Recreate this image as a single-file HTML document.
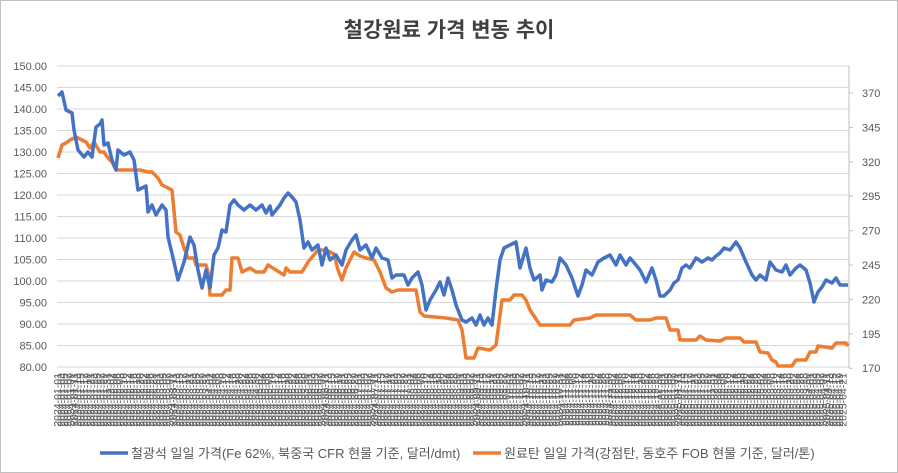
<!DOCTYPE html>
<html><head><meta charset="utf-8">
<style>
body{margin:0;background:#fff;}
svg{display:block;font-family:"Liberation Sans","Noto Sans CJK KR",sans-serif;}
</style></head>
<body>
<svg id="c" width="898" height="473" viewBox="0 0 898 473" xmlns="http://www.w3.org/2000/svg">
<rect x="0.5" y="0.5" width="897" height="472" fill="#fff" stroke="#bfbfbf"/>
<text x="449" y="37" text-anchor="middle" font-size="21" font-weight="bold" fill="#404040">철강원료 가격 변동 추이</text>
<g id="grid"></g>
<line x1="849" y1="66" x2="849" y2="368" stroke="#bfbfbf"/>
<g id="xl" font-size="10.5" fill="#595959"></g>
<polyline fill="none" stroke="#ed7d31" stroke-width="3.5" stroke-linejoin="round" points="58,158 62,145 66,143 70,140 76,137 82,140 86,142 90,148 94,142 100,152 104,152 108,158 112,162 116,170 140,170 148,172 152,172 158,178 162,185 166,187 172,190 176,232 180,235 184,248 188,258 194,258 196,265 206,265 208,272 210,295 222,295 226,290 230,290 232,258 238,258 242,272 250,268 256,272 264,272 268,265 276,270 284,275 286,268 290,272 302,272 308,262 318,250 326,250 334,254 338,270 342,280 346,268 354,252 360,256 366,258 374,260 380,272 386,288 392,292 398,290 416,290 420,312 424,316 446,318 458,320 462,330 466,358 474,358 478,348 490,350 496,345 502,300 510,300 514,295 522,295 526,300 530,310 540,325 570,325 574,320 590,318 596,315 630,315 636,320 650,320 656,318 666,318 670,330 678,330 680,340 696,340 700,336 706,340 720,341 726,338 740,338 744,342 756,342 760,352 768,353 772,360 776,362 778,366 792,366 796,360 806,360 810,352 816,352 818,346 832,348 836,343 846,343 848,346"/>
<polyline fill="none" stroke="#4472c4" stroke-width="3.5" stroke-linejoin="round" points="58,96 62,92 66,110 72,113 74,130 78,150 84,157 88,152 92,157 96,127 100,124 102,120 104,145 108,143 112,160 116,170 118,150 124,155 130,152 134,160 138,190 146,186 148,212 152,205 156,215 162,205 166,210 168,237 174,262 178,280 184,262 190,237 194,245 198,270 202,288 206,270 210,288 214,255 218,248 222,230 226,232 230,205 234,200 238,205 244,210 250,205 256,210 262,205 266,213 270,206 272,215 280,205 284,198 288,193 292,197 296,202 300,220 304,248 308,242 312,250 318,245 322,265 326,248 330,260 336,255 342,265 346,250 352,240 356,235 360,250 366,245 372,258 376,248 382,258 388,260 392,278 396,275 404,275 408,285 412,278 418,272 422,285 426,310 430,300 436,290 440,282 444,295 448,278 452,290 456,305 462,320 466,322 472,318 476,325 480,315 484,325 488,318 492,325 496,290 500,260 504,248 510,245 516,242 520,268 526,248 530,268 534,280 540,275 542,290 546,280 552,282 556,275 560,258 566,265 572,278 578,296 582,285 586,270 592,275 598,262 604,258 610,255 616,265 620,255 626,265 630,258 636,265 640,270 646,282 652,268 656,280 660,296 664,296 670,290 674,283 678,280 682,268 686,265 690,268 696,258 702,262 708,258 712,260 716,256 720,253 724,248 730,250 736,242 740,248 746,262 752,275 756,280 760,275 766,280 770,262 776,270 782,272 786,265 790,275 796,268 800,265 806,270 810,283 814,302 818,292 822,287 826,280 832,283 836,278 840,285 848,285"/>
<line x1="100" y1="453" x2="128" y2="453" stroke="#4472c4" stroke-width="3.5"/>
<text x="131" y="458" font-size="13" fill="#595959">철광석 일일 가격(Fe 62%, 북중국 CFR 현물 기준, 달러/dmt)</text>
<line x1="473" y1="453" x2="501" y2="453" stroke="#ed7d31" stroke-width="3.5"/>
<text x="504" y="458" font-size="13" fill="#595959">원료탄 일일 가격(강점탄, 동호주 FOB 현물 기준, 달러/톤)</text>
</svg>
<script>
var ns="http://www.w3.org/2000/svg",g=document.getElementById('grid'),xl=document.getElementById('xl');
function el(t,a,p,txt){var e=document.createElementNS(ns,t);for(var k in a)e.setAttribute(k,a[k]);if(txt)e.textContent=txt;p.appendChild(e);return e;}
for(var i=0;i<=14;i++){var v=150-5*i,y=66+i*21.5;
el('line',{x1:57,y1:y,x2:849,y2:y,stroke:'#d9d9d9'},g);
el('text',{x:47,y:y+4,'text-anchor':'end','font-size':11,fill:'#595959'},g,v.toFixed(2));}
for(var j=0;j<=8;j++){var y=93+j*34.4;
el('line',{x1:849,y1:y,x2:853,y2:y,stroke:'#bfbfbf'},g);
el('text',{x:862,y:y+4,'font-size':11,fill:'#595959'},g,String(370-25*j));}
var d=new Date(2024,0,1);
for(var x=61;x<=847;x+=3.3){var s=d.getFullYear()+'-'+('0'+(d.getMonth()+1)).slice(-2)+'-'+('0'+d.getDate()).slice(-2);
el('text',{x:0,y:0,'text-anchor':'end',transform:'translate('+x+',373) rotate(-90)'},xl,s);d.setDate(d.getDate()+2);}
</script>
</body></html>
